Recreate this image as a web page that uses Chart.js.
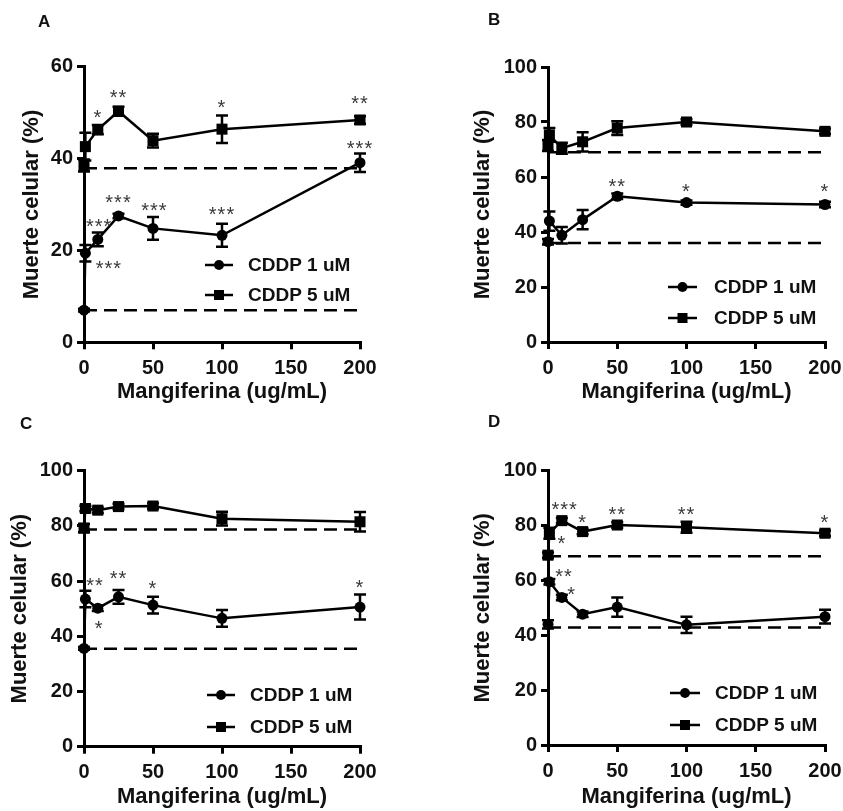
<!DOCTYPE html>
<html>
<head>
<meta charset="utf-8">
<script src="https://cdn.jsdelivr.net/npm/chart.js@4.4.1/dist/chart.umd.min.js"></script>
<style>
  body { margin: 0; background: #fff; width: 843px; height: 811px; position: relative; overflow: hidden; }
  .panel { position: absolute; width: 421px; height: 405px; }
  .letra { position: absolute; font: bold 17px "Liberation Sans", Arial, sans-serif; line-height: 17px; color: #111; }
</style>
</head>
<body>
<div class="panel" style="left:0;top:0"><canvas id="gA" width="421" height="405"></canvas></div>
<div class="panel" style="left:421px;top:0"><canvas id="gB" width="421" height="405"></canvas></div>
<div class="panel" style="left:0;top:405px"><canvas id="gC" width="421" height="405"></canvas></div>
<div class="panel" style="left:421px;top:405px"><canvas id="gD" width="421" height="405"></canvas></div>
<div class="letra" style="left:38px;top:13px">A</div>
<div class="letra" style="left:488px;top:11px">B</div>
<div class="letra" style="left:20px;top:415px">C</div>
<div class="letra" style="left:488px;top:413px">D</div>
<script>
// concentraciones de mangiferina (0 = control con CDDP solo)
var dosis = [0, 1, 10, 25, 50, 100, 200];
var nombres = ['CDDP 1 uM', 'CDDP 5 uM'];
var xTicks = [0, 50, 100, 150, 200];
var yTicks60 = [0, 20, 40, 60];
var yTicks100 = [0, 20, 40, 60, 80, 100];

// Panel A
var a1 = [7, 19.4, 22.4, 27.5, 24.8, 23.3, 39.1];
var a1Err = [0.3, 1.8, 1.5, 0.5, 2.5, 2.5, 2];
var a5 = [38.5, 42.6, 46.3, 50.3, 43.9, 46.4, 48.4];
var a5Err = [1.3, 3, 1, 1, 1.5, 3, 0.8];
var aBase = [7, 37.9];
var aStars = [[10, 50.2, '*'], [25, 54.6, '**'], [100, 52.4, '*'], [200, 53.1, '**'],
              [200, 43.3, '***'], [25, 31.7, '***'], [51, 29.9, '***'], [100, 29, '***'],
              [11, 26.5, '***'], [18, 17.2, '***']];

// Panel B
var b1 = [36.5, 44, 38.8, 44.5, 53, 50.7, 50];
var b1Err = [1, 3.5, 3, 3.5, 1, 0.8, 1];
var b5 = [71.5, 75.3, 70.5, 72.8, 77.8, 80, 76.6];
var b5Err = [2, 2.5, 2, 3.5, 2.5, 1, 1];
var bBase = [36, 69];
var bStars = [[50, 58.4, '**'], [100, 56.6, '*'], [200, 56.6, '*']];

// Panel C
var c1 = [35.6, 53.5, 50.2, 54.3, 51.3, 46.5, 50.6];
var c1Err = [0.5, 3, 1, 2.5, 3, 3, 4.5];
var c5 = [79.2, 86.3, 85.7, 87, 87.2, 82.6, 81.5];
var c5Err = [1.5, 1, 1, 1, 1, 2.5, 3.5];
var cBase = [35.5, 78.7];
var cStars = [[8, 60.4, '**'], [25, 62.8, '**'], [50, 59.2, '*'], [200, 59.8, '*'], [11, 45, '*']];

// Panel D
var d1 = [44, 59.5, 53.8, 47.7, 50.3, 43.8, 46.8];
var d1Err = [1.5, 1, 1, 1, 3.5, 3, 2.5];
var d5 = [69.2, 77.2, 81.8, 77.8, 80.2, 79.4, 77.2];
var d5Err = [1, 2, 1, 1, 1, 2, 1];
var dBase = [42.8, 68.8];
var dStars = [[12, 87.9, '***'], [25, 83.2, '*'], [50, 85.9, '**'], [100, 85.9, '**'], [200, 83, '*'],
              [10, 75.3, '*'], [11.5, 63.5, '**'], [17, 56.9, '*']];

var FUENTE = '"Liberation Sans", Arial, sans-serif';
Chart.defaults.font.family = FUENTE;

// barras de error (media +/- error)
var barrasError = {
  id: 'barrasError',
  afterDatasetsDraw: function(chart) {
    var ctx = chart.ctx, x = chart.scales.x, y = chart.scales.y;
    chart.data.datasets.forEach(function(ds) {
      if (!ds.err) return;
      ctx.save();
      ctx.strokeStyle = '#000';
      ctx.lineWidth = 2.5;
      ds.data.forEach(function(pt, i) {
        var e = ds.err[i];
        if (!e) return;
        var px = x.getPixelForValue(pt.x);
        var arriba = y.getPixelForValue(pt.y + e);
        var abajo = y.getPixelForValue(pt.y - e);
        ctx.beginPath();
        ctx.moveTo(px, arriba); ctx.lineTo(px, abajo);
        ctx.moveTo(px - 6, arriba); ctx.lineTo(px + 6, arriba);
        ctx.moveTo(px - 6, abajo); ctx.lineTo(px + 6, abajo);
        ctx.stroke();
      });
      ctx.restore();
    });
  }
};

// asteriscos de significancia
var estrellas = {
  id: 'estrellas',
  afterDatasetsDraw: function(chart, args, opts) {
    var ctx = chart.ctx, x = chart.scales.x, y = chart.scales.y;
    ctx.save();
    ctx.font = '20px ' + FUENTE;
    ctx.letterSpacing = '1px';
    ctx.fillStyle = '#3a3a3a';
    ctx.textAlign = 'center';
    ctx.textBaseline = 'alphabetic';
    (opts.items || []).forEach(function(s) {
      ctx.fillText(s[2], x.getPixelForValue(s[0]), y.getPixelForValue(s[1]) + 12);
    });
    ctx.restore();
  }
};

// leyenda dentro del area
var leyenda = {
  id: 'leyenda',
  afterDraw: function(chart, args, opts) {
    var ctx = chart.ctx, L = opts.pos;
    chart.data.datasets.slice(0, 2).forEach(function(ds, i) {
      var yy = L.y[i], xm = (L.x0 + L.x1) / 2;
      ctx.save();
      ctx.strokeStyle = '#000';
      ctx.fillStyle = '#000';
      ctx.lineWidth = 2.5;
      ctx.beginPath(); ctx.moveTo(L.x0, yy); ctx.lineTo(L.x1, yy); ctx.stroke();
      if (ds.pointStyle === 'rect') {
        ctx.fillRect(xm - 5, yy - 5, 10, 10);
      } else {
        ctx.beginPath(); ctx.arc(xm, yy, 5, 0, Math.PI * 2); ctx.fill();
      }
      ctx.font = 'bold 19px ' + FUENTE;
      ctx.fillStyle = '#111';
      ctx.textBaseline = 'middle';
      ctx.fillText(ds.label, L.tx, yy + 1);
      ctx.restore();
    });
  }
};

var paneles = [
  { id: 'gA', y1: a1, e1: a1Err, y5: a5, e5: a5Err, base: aBase, stars: aStars, yTicks: yTicks60,
    area: { l: 84, r: 360, t: 66.7, b: 342.3 }, yTit: 18.8, xTit: 0,
    leg: { x0: 205, x1: 233, tx: 248, y: [265, 295] } },
  { id: 'gB', y1: b1, e1: b1Err, y5: b5, e5: b5Err, base: bBase, stars: bStars, yTicks: yTicks100,
    area: { l: 127, r: 404, t: 67, b: 342 }, yTit: 48.8, xTit: 0,
    leg: { x0: 247, x1: 276, tx: 293, y: [287, 318] } },
  { id: 'gC', y1: c1, e1: c1Err, y5: c5, e5: c5Err, base: cBase, stars: cStars, yTicks: yTicks100,
    area: { l: 84, r: 360, t: 65.7, b: 341.7 }, yTit: 6.8, xTit: 0,
    leg: { x0: 207, x1: 235, tx: 250, y: [290, 322] } },
  { id: 'gD', y1: d1, e1: d1Err, y5: d5, e5: d5Err, base: dBase, stars: dStars, yTicks: yTicks100,
    area: { l: 127, r: 404, t: 65.7, b: 340 }, yTit: 48.8, xTit: 0,
    leg: { x0: 249, x1: 279, tx: 294, y: [288, 320] } }
];

function puntos(vals) {
  return dosis.map(function(d, i) { return { x: d, y: vals[i] }; });
}

function linea(v) {
  return [{ x: dosis[0], y: v }, { x: dosis[dosis.length - 1], y: v }];
}

paneles.forEach(function(p) {
  var W = 421, H = 405;
  var ejeGrid = { display: true, drawOnChartArea: false, drawTicks: true, tickLength: 7, lineWidth: 3, color: '#000' };
  var ejeBorde = { display: true, width: 3, color: '#000' };
  var fTick = { size: 20, weight: 'bold' };
  var fTit = { size: 22, weight: 'bold' };

  new Chart(document.getElementById(p.id), {
    type: 'line',
    data: {
      datasets: [
        { label: nombres[0], data: puntos(p.y1), err: p.e1, borderColor: '#000', backgroundColor: '#000',
          borderWidth: 2.5, pointStyle: 'circle', pointRadius: 5.5, pointBorderWidth: 0, clip: false },
        { label: nombres[1], data: puntos(p.y5), err: p.e5, borderColor: '#000', backgroundColor: '#000',
          borderWidth: 2.5, pointStyle: 'rect', pointRadius: 7.8, pointBorderWidth: 0, clip: false },
        { label: '', data: linea(p.base[0]), borderColor: '#000', borderWidth: 2.5,
          borderDash: [13, 7], pointRadius: 0 },
        { label: '', data: linea(p.base[1]), borderColor: '#000', borderWidth: 2.5,
          borderDash: [13, 7], pointRadius: 0 }
      ]
    },
    options: {
      responsive: false,
      animation: false,
      layout: { padding: { left: 0, top: p.area.t, right: W - p.area.r, bottom: 0 } },
      plugins: {
        legend: { display: false },
        tooltip: { enabled: false },
        estrellas: { items: p.stars },
        leyenda: { pos: p.leg }
      },
      scales: {
        x: {
          type: 'linear', min: 0, max: 200,
          afterFit: function(s) { s.height = H - p.area.b; s.paddingLeft = 0; s.paddingRight = 0; },
          afterBuildTicks: function(s) { s.ticks = xTicks.map(function(v) { return { value: v }; }); },
          grid: ejeGrid, border: ejeBorde,
          ticks: { font: fTick, color: '#111', padding: 7, maxRotation: 0, autoSkip: false },
          title: { display: true, text: 'Mangiferina (ug/mL)', font: fTit, color: '#111',
                   padding: { top: 0, bottom: p.xTit } }
        },
        y: {
          type: 'linear', min: 0, max: p.yTicks[p.yTicks.length - 1],
          afterFit: function(s) { s.width = p.area.l; s.paddingTop = 0; s.paddingBottom = 0; },
          afterBuildTicks: function(s) { s.ticks = p.yTicks.map(function(v) { return { value: v }; }); },
          grid: ejeGrid, border: ejeBorde,
          ticks: { font: fTick, color: '#111', padding: 4, autoSkip: false },
          title: { display: true, text: 'Muerte celular (%)', font: fTit, color: '#111',
                   padding: { top: p.yTit, bottom: 0 } }
        }
      }
    },
    plugins: [barrasError, estrellas, leyenda]
  });
});
</script>
</body>
</html>
